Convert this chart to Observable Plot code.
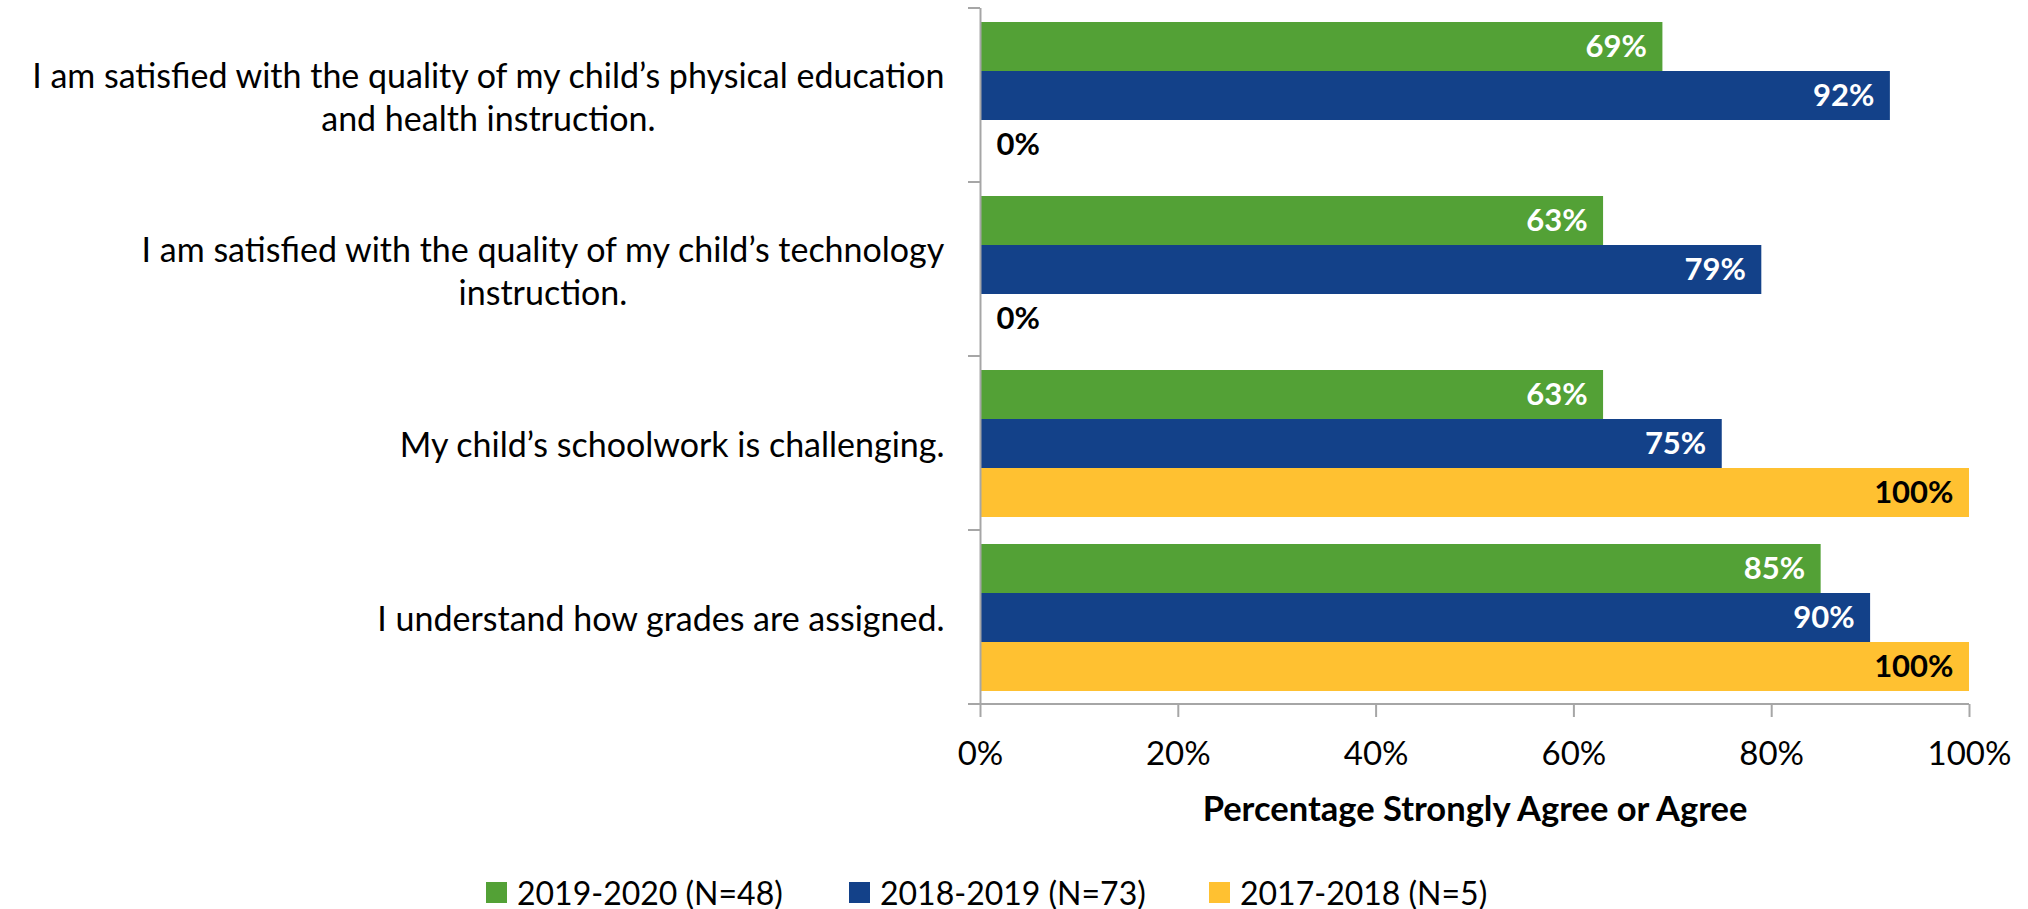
<!DOCTYPE html>
<html>
<head>
<meta charset="utf-8">
<script src="https://cdn.jsdelivr.net/npm/d3@7"></script>
<script src="https://cdn.jsdelivr.net/npm/@observablehq/plot@0.6"></script>
<style>
  html, body { margin: 0; padding: 0; background: #fff; }
  #wrap { position: relative; width: 2028px; height: 909px; font-family: Lato, sans-serif; }
  #legend { position: absolute; left: 0; top: 850px; width: 2028px; height: 59px; }
  .item { position: absolute; top: 23px; display: flex; align-items: center; font-size: 32px; color: #000; white-space: nowrap; }
  .sw { width: 21px; height: 21px; margin-right: 10px; }
</style>
</head>
<body>
<div id="wrap"><div id="chart"></div><div id="legend"></div></div>
<script>
const questions = [
  "I am satisfied with the quality of my child’s physical education and health instruction.",
  "I am satisfied with the quality of my child’s technology instruction.",
  "My child’s schoolwork is challenging.",
  "I understand how grades are assigned."
];
const questionLabels = [
  "I am satisfied with the quality of my child’s physical education\nand health instruction.",
  "I am satisfied with the quality of my child’s technology\ninstruction.",
  "My child’s schoolwork is challenging.",
  "I understand how grades are assigned."
];
const series = ["2019-2020 (N=48)", "2018-2019 (N=73)", "2017-2018 (N=5)"];
const colors = ["#53a136", "#134189", "#ffc131"];
const values2019_2020 = [69, 63, 63, 85];
const values2018_2019 = [92, 79, 75, 90];
const values2017_2018 = [0, 0, 100, 100];
const xTicks = [0, 20, 40, 60, 80, 100];
const axisTitle = "Percentage Strongly Agree or Agree";

const seriesValues = [values2019_2020, values2018_2019, values2017_2018];
const rows = [];
questions.forEach((q, i) => {
  series.forEach((s, j) => rows.push({question: q, series: s, value: seriesValues[j][i]}));
});
const labelOf = new Map(questions.map((q, i) => [q, questionLabels[i]]));

const gray = "#a6a6a6";
const plot = Plot.plot({
  width: 2028,
  height: 850,
  marginLeft: 980,
  marginRight: 59,
  marginTop: 7,
  marginBottom: 146,
  style: {fontFamily: "Lato, sans-serif", fontSize: "30px", color: "#000", background: "#fff"},
  x: {domain: [0, 100]},
  y: {domain: series, axis: null, paddingInner: 0, paddingOuter: 0.26},
  fy: {domain: questions, paddingInner: 0, paddingOuter: 0, axis: null},
  color: {domain: series, range: colors},
  marks: [
    Plot.barX(rows, {x: "value", y: "series", fy: "question", fill: "series"}),
    Plot.text(rows.filter(d => d.value > 0 && d.series !== series[2]), {
      x: "value", y: "series", fy: "question", text: d => d.value + "%",
      textAnchor: "end", dx: -16, fill: "#fff", fontWeight: "bold", fontSize: 31
    }),
    Plot.text(rows.filter(d => d.value > 0 && d.series === series[2]), {
      x: "value", y: "series", fy: "question", text: d => d.value + "%",
      textAnchor: "end", dx: -16, fill: "#000", fontWeight: "bold", fontSize: 31
    }),
    Plot.text(rows.filter(d => d.value === 0), {
      x: "value", y: "series", fy: "question", text: d => d.value + "%",
      textAnchor: "start", dx: 16, fill: "#000", fontWeight: "bold", fontSize: 31
    }),
    Plot.ruleX([0], {stroke: gray, strokeWidth: 2}),
    Plot.axisX({
      ticks: xTicks, tickFormat: d => d + "%", tickSize: 13, tickPadding: 24,
      stroke: gray, strokeWidth: 2, fontSize: 33,
      label: null
    }),
    Plot.axisX({
      ticks: [], tickSize: 0, fontSize: 34.5,
      label: axisTitle, labelAnchor: "center", labelArrow: "none", labelOffset: 116
    }),
    Plot.axisFy({anchor: "left", tickSize: 0, tickPadding: 36, tickFormat: q => labelOf.get(q), label: null, fontSize: 34, lineHeight: 1.26})
  ]
});
document.getElementById("chart").appendChild(plot);

// axis title bold
d3.select(plot).selectAll('g[aria-label="x-axis label"] text').attr("font-weight", "bold");

// center multi-line question labels within their block, block right-aligned
d3.select(plot).selectAll('g[aria-label="fy-axis tick label"] text').each(function() {
  const w = this.getBBox().width;
  const t = d3.select(this);
  const tr = t.attr("transform") || "";
  t.attr("text-anchor", "middle").attr("transform", tr + ` translate(${-w / 2},0)`);
});

// left boundary ticks and bottom axis line, from the scales
const fy = plot.scale("fy");
const xs = plot.scale("x");
const x0 = xs.apply(0);
const g = d3.select(plot).append("g").attr("stroke", gray).attr("stroke-width", 2);
const bounds = fy.domain.map(d => fy.apply(d));
bounds.push(fy.apply(fy.domain[fy.domain.length - 1]) + fy.bandwidth);
bounds.slice(0, -1).forEach(b => g.append("line").attr("x1", x0 - 12).attr("x2", x0).attr("y1", b).attr("y2", b));
const yb = bounds[bounds.length - 1];
g.append("line").attr("x1", x0 - 12).attr("x2", xs.apply(100)).attr("y1", yb).attr("y2", yb);

// legend
const legendLeft = [486, 849, 1209];
const legend = d3.select("#legend");
series.forEach((s, i) => {
  const it = legend.append("div").attr("class", "item").style("left", legendLeft[i] + "px");
  it.append("div").attr("class", "sw").style("background", colors[i]);
  it.append("span").text(s);
});
</script>
</body>
</html>
